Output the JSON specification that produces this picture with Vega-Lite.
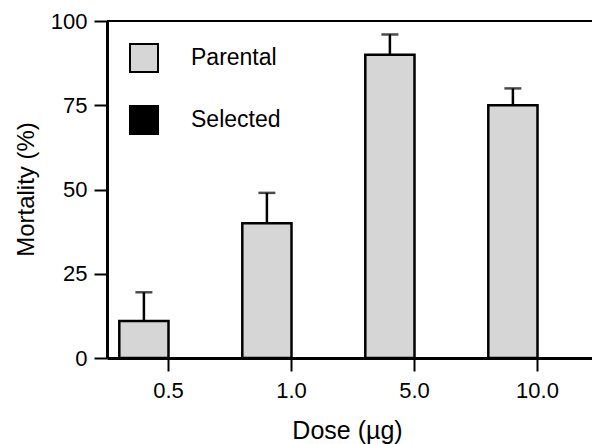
{
  "$schema": "https://vega.github.io/schema/vega-lite/v6.json",
  "width": 485,
  "height": 337,
  "autosize": {"type": "none"},
  "padding": {"left": 107, "top": 21, "right": 0, "bottom": 86},
  "background": "white",
  "config": {
    "view": {"stroke": null},
    "font": "Liberation Sans",
    "axis": {
      "grid": false,
      "domainColor": "black",
      "domainWidth": 3,
      "tickColor": "black",
      "tickWidth": 2,
      "tickSize": 13,
      "labelColor": "black",
      "labelFontSize": 22,
      "labelFont": "Liberation Sans",
      "titleFont": "Liberation Sans",
      "titleFontWeight": "normal",
      "titleColor": "black",
      "titleFontSize": 24
    }
  },
  "data": {
    "values": [
      {"dose": "0.5", "group": "Parental", "value": 11, "upper": 19.5},
      {"dose": "1.0", "group": "Parental", "value": 40, "upper": 49},
      {"dose": "5.0", "group": "Parental", "value": 90, "upper": 96},
      {"dose": "10.0", "group": "Parental", "value": 75, "upper": 80}
    ]
  },
  "layer": [
    {
      "mark": {"type": "bar", "stroke": "black", "strokeWidth": 2.5},
      "encoding": {
        "x": {
          "field": "dose", "type": "nominal", "sort": ["0.5", "1.0", "5.0", "10.0"],
          "scale": {"range": [0, 492], "paddingInner": 0, "paddingOuter": 0},
          "axis": {"title": "Dose (µg)", "titleFontSize": 25, "labelAngle": 0, "labelPadding": 9, "titleX": 240, "titleY": 80, "titleBaseline": "alphabetic"}
        },
        "xOffset": {"field": "group", "type": "nominal", "scale": {"domain": ["Parental", "Selected"], "paddingInner": 0, "paddingOuter": 0.25}},
        "y": {
          "field": "value", "type": "quantitative",
          "scale": {"domain": [0, 100], "nice": false},
          "axis": {"title": "Mortality (%)", "values": [0, 25, 50, 75, 100], "labelPadding": 7, "titleX": -81, "titleY": 168, "titleBaseline": "middle", "titleAngle": -90}
        },
        "color": {
          "field": "group", "type": "nominal",
          "scale": {"domain": ["Parental", "Selected"], "range": ["#d6d6d6", "black"]},
          "legend": {
            "title": null, "orient": "none", "legendX": 22, "legendY": 22, "padding": 0,
            "symbolType": "square", "symbolSize": 784, "symbolStrokeColor": "black", "symbolStrokeWidth": 2,
            "labelFontSize": 23, "labelColor": "black", "labelFont": "Liberation Sans", "labelOffset": 32, "rowPadding": 26
          }
        }
      }
    },
    {
      "mark": {"type": "rule", "strokeWidth": 2.5, "color": "black"},
      "encoding": {
        "x": {"field": "dose", "type": "nominal", "sort": ["0.5", "1.0", "5.0", "10.0"]},
        "xOffset": {"field": "group", "type": "nominal"},
        "y": {"field": "value", "type": "quantitative"},
        "y2": {"field": "upper"}
      }
    },
    {
      "mark": {"type": "tick", "size": 17, "thickness": 2.5, "color": "black", "orient": "horizontal"},
      "encoding": {
        "x": {"field": "dose", "type": "nominal", "sort": ["0.5", "1.0", "5.0", "10.0"]},
        "xOffset": {"field": "group", "type": "nominal"},
        "y": {"field": "upper", "type": "quantitative"}
      }
    },
    {
      "data": {"values": [{"top": 100}]},
      "mark": {"type": "rule", "strokeWidth": 2, "color": "black"},
      "encoding": {"y": {"field": "top", "type": "quantitative"}}
    }
  ]
}
